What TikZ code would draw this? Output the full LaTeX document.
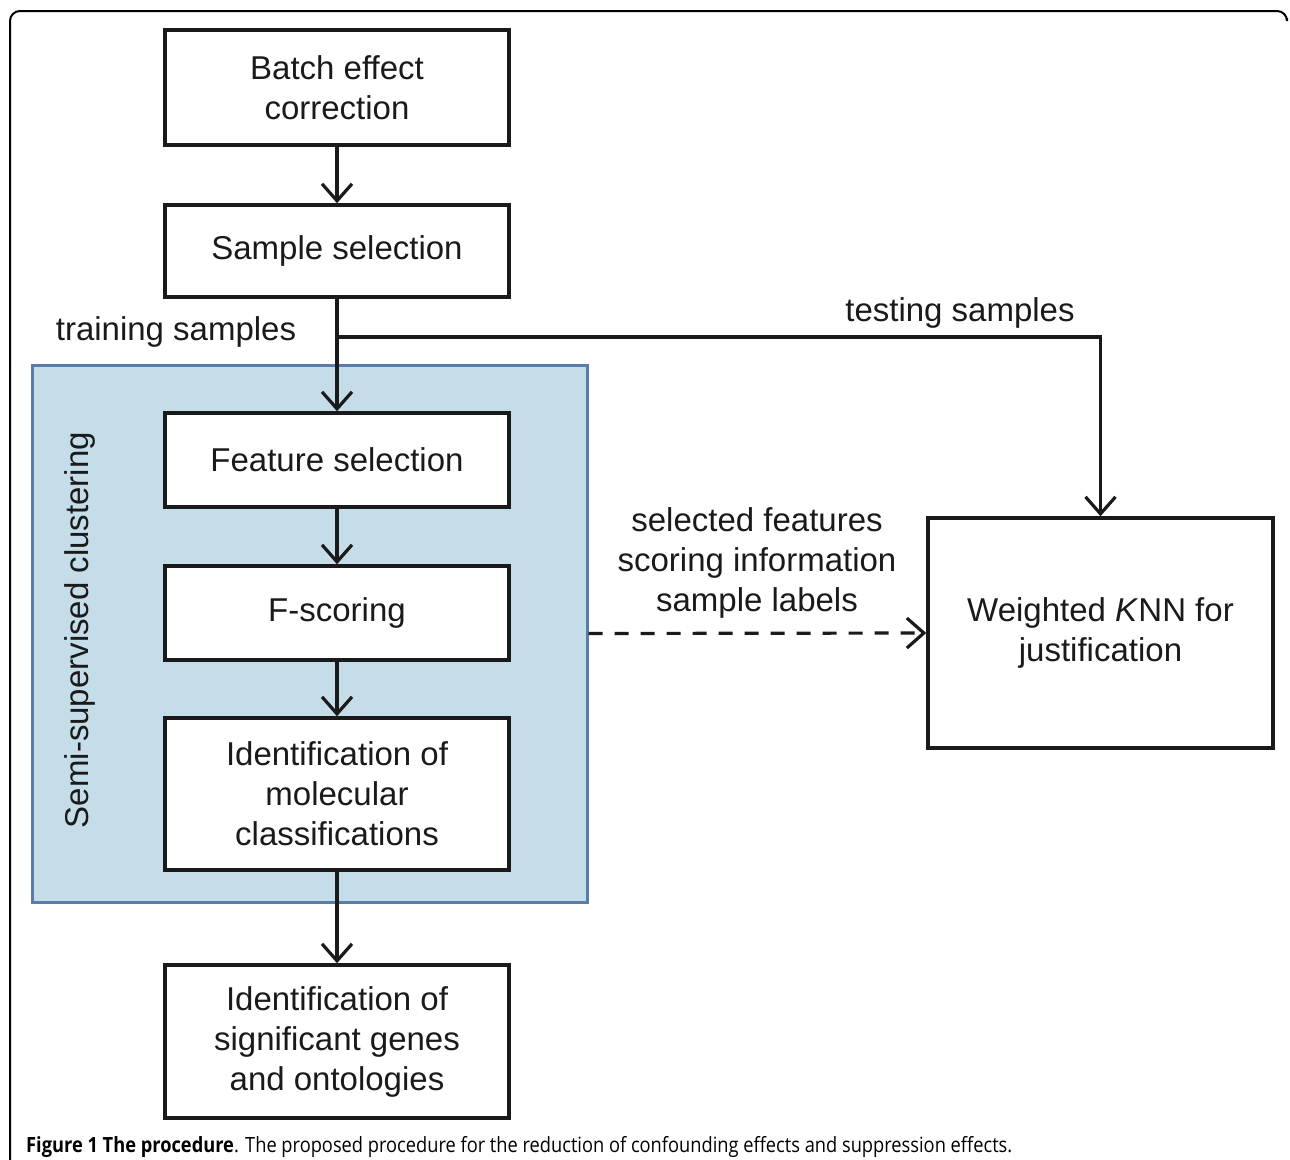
\documentclass[tikz,border=0pt]{standalone}
\usepackage{fontspec}
\usepackage{graphicx}
\setmainfont{Liberation Sans}
\newfontfamily\capfont{Open Sans}
\usetikzlibrary{arrows.meta}
\definecolor{panelfill}{HTML}{C5DDE8}
\definecolor{panelline}{HTML}{5B7BA8}
\definecolor{ink}{HTML}{1A1A1A}
\tikzset{
  procbox/.style={draw=ink, line width=3.5pt, minimum width=344pt, align=center,
    inner sep=0pt, text=ink, font=\fontsize{33}{40}\selectfont},
  lbl/.style={inner sep=0pt, align=center, text=ink, font=\fontsize{33}{40}\selectfont},
  flow/.style={draw=ink, line width=3.2pt, -{Straight Barb[length=17pt,width=30pt,line width=3.2pt]}},
  plainline/.style={draw=ink, line width=3.2pt},
}
\begin{document}
\begin{tikzpicture}[x=1pt,y=-1pt]
\useasboundingbox (0,0) rectangle (1290,1159);
% outer frame
\draw[line width=2pt, rounded corners=10pt] (10,1162) -- (10,11) -- (1287,11) -- (1287,18);
% panel
\node[draw=panelline, fill=panelfill, line width=3pt, minimum width=555pt, minimum height=537pt, inner sep=0pt] (panel) at (309.5,633.5) {};
\node[lbl, rotate=90] (paneltitle) at (80,630) {Semi-supervised clustering};
% boxes
\node[procbox, minimum height=115pt] (batch) at (337,87.5) {Batch effect\\correction};
\node[procbox, minimum height=92pt] (sample) at (337,251) {Sample selection};
\node[procbox, fill=white, minimum height=94pt] (feat) at (337,460) {Feature selection};
\node[procbox, fill=white, minimum height=94pt] (fscore) at (337,613) {F-scoring};
\node[procbox, fill=white, minimum height=152pt] (ident) at (337,794) {Identification of\\molecular\\classifications};
\node[procbox, minimum height=153pt] (genes) at (337,1041.5) {Identification of\\significant genes\\and ontologies};
\node[procbox, minimum width=345pt, minimum height=230pt] (knn) at (1100.5,633) {Weighted \textit{K}NN for\\justification};
% connectors
\coordinate (split) at (337,337);
\coordinate (turn) at (1100.5,337);
\draw[flow] (batch.south) -- (sample.north);
\draw[plainline] (sample.south) -- (split);
\draw[flow] (split) -- (feat.north);
\draw[flow] (split) -- (turn) -- (knn.north);
\draw[flow] (feat.south) -- (fscore.north);
\draw[flow] (fscore.south) -- (ident.north);
\draw[flow] (ident.south) -- (genes.north);
\draw[flow, dash pattern=on 14pt off 12pt] (panel.east) -- (knn.west);
% labels
\node[lbl] (train) at (176,332) {training samples};
\node[lbl] (test) at (960,313) {testing samples};
\node[lbl] (info) at (757,563) {selected features\\scoring information\\sample labels};
% caption
\node[anchor=base west, inner sep=0pt] (cap) at (26,1152) {\resizebox{986pt}{\height}{\capfont\fontsize{21}{25}\selectfont\textbf{Figure 1 The procedure}. The proposed procedure for the reduction of confounding effects and suppression effects.}};
\end{tikzpicture}
\end{document}
